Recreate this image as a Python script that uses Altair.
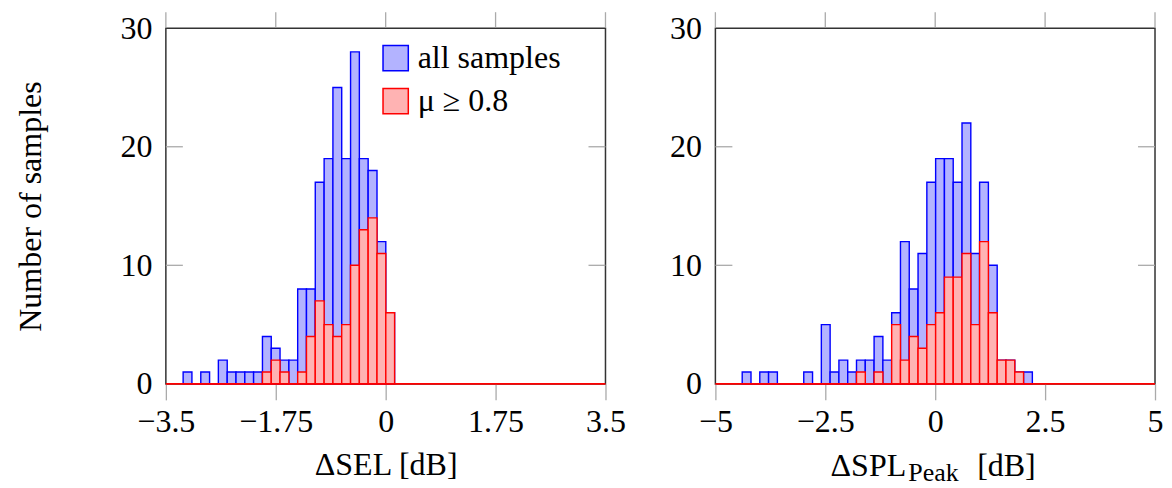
import altair as alt
import pandas as pd

FONT = "Liberation Serif"

# ---------------- data ----------------
series_names = ["all samples", "\u2003\u03bc \u2265 0.8"]
fill_colors = ["#b3b3ff", "#ffb3b3"]
stroke_colors = ["#0000ff", "#ff0000"]

# ΔSEL histogram (bin edges and counts)
sel_edges = [-3.225, -3.085, -2.944, -2.804, -2.664, -2.523, -2.383, -2.243,
             -2.103, -1.962, -1.822, -1.682, -1.541, -1.401, -1.261, -1.121,
             -0.980, -0.840, -0.700, -0.559, -0.419, -0.279, -0.138, 0.002, 0.142]
sel_all = [1, 0, 1, 0, 2, 1, 1, 1, 1, 4, 3, 2, 2, 8, 8, 17, 19, 25, 19, 28, 19, 18, 12, 6]
sel_mu = [0, 0, 0, 0, 0, 0, 0, 0, 0, 1, 2, 1, 0, 1, 4, 7, 5, 4, 5, 10, 13, 14, 11, 6]
sel_ticks = [-3.5, -1.75, 0, 1.75, 3.5]

# ΔSPL_Peak histogram
spl_edges = [-4.39, -4.19, -3.99, -3.79, -3.59, -3.39, -3.19, -2.99, -2.79,
             -2.59, -2.39, -2.19, -1.99, -1.79, -1.59, -1.39, -1.19, -0.99,
             -0.79, -0.59, -0.39, -0.19, 0.01, 0.21, 0.41, 0.61, 0.81, 1.01,
             1.21, 1.41, 1.61, 1.81, 2.01, 2.21]
spl_all = [1, 0, 1, 1, 0, 0, 0, 1, 0, 5, 1, 2, 1, 2, 2, 4, 2, 6, 12, 8, 11,
           17, 19, 19, 17, 22, 11, 17, 10, 2, 2, 1, 1]
spl_mu = [0, 0, 0, 0, 0, 0, 0, 0, 0, 0, 0, 0, 0, 1, 0, 1, 0, 5, 2, 4, 3,
          5, 6, 9, 9, 11, 5, 12, 6, 2, 2, 1, 0]
spl_ticks = [-5, -2.5, 0, 2.5, 5]

y_ticks = [0, 10, 20, 30]
y_max = 30

W, H = 440, 356
FS = 32


def make_axes(xticks, ytitle, xtitle):
    xkw = dict(values=xticks, format=".3~g", tickSize=16, tickColor="#aaaaaa",
               tickWidth=1.3, labelPadding=7, labelFlush=False, labelOverlap=False,
               domain=False, grid=False, titlePadding=12, title=xtitle)
    ykw = dict(values=y_ticks, format=".3~g", ticks=False, tickSize=0, labelPadding=14,
               domain=False, grid=False, titlePadding=72, title=ytitle)
    return alt.Axis(**xkw), alt.Axis(**ykw)


def panel(edges, all_counts, mu_counts, xticks, legend, ytitle, xtitle):
    rows = []
    for name, counts in ((series_names[0], all_counts), (series_names[1], mu_counts)):
        for i, c in enumerate(counts):
            rows.append({"lo": edges[i], "hi": edges[i + 1], "n": c, "series": name})
    df = pd.DataFrame(rows)

    xscale = alt.Scale(domain=[xticks[0], xticks[-1]], nice=False, zero=False)
    yscale = alt.Scale(domain=[0, y_max], nice=False)
    xaxis, yaxis = make_axes(xticks, ytitle, xtitle)

    bars = alt.Chart(df).mark_rect(strokeWidth=1.4).encode(
        x=alt.X("lo:Q", scale=xscale, axis=xaxis),
        x2="hi:Q",
        y=alt.Y("n:Q", scale=yscale, axis=yaxis),
        y2=alt.datum(0),
        fill=alt.Fill("series:N", scale=alt.Scale(domain=series_names, range=fill_colors),
                      legend=legend),
        stroke=alt.Stroke("series:N", scale=alt.Scale(domain=series_names, range=stroke_colors),
                          legend=legend),
    )

    # inner tick marks (only strictly inside the frame)
    ytick_df = pd.DataFrame({"n": [t for t in y_ticks if 0 < t < y_max]})
    xtick_df = pd.DataFrame({"lo": xticks})
    left_ticks = alt.Chart(ytick_df).mark_rule(color="#aaaaaa", strokeWidth=1.3).encode(
        y=alt.Y("n:Q", scale=yscale, axis=yaxis), x=alt.value(0), x2=alt.value(17))
    right_ticks = alt.Chart(ytick_df).mark_rule(color="#aaaaaa", strokeWidth=1.3).encode(
        y=alt.Y("n:Q", scale=yscale, axis=yaxis), x=alt.value(W - 17), x2=alt.value(W))
    top_ticks = alt.Chart(xtick_df).mark_rule(color="#aaaaaa", strokeWidth=1.3).encode(
        x=alt.X("lo:Q", scale=xscale, axis=xaxis), y=alt.value(-1), y2=alt.value(-16))
    base = alt.Chart(pd.DataFrame({"n": [0]})).mark_rule(color="#ff0000", strokeWidth=1.6).encode(
        y=alt.Y("n:Q", scale=yscale, axis=yaxis), x=alt.value(0), x2=alt.value(W))

    return [left_ticks, right_ticks, top_ticks, bars, base]


legend = alt.Legend(title=None, orient="none", legendX=214, legendY=14, symbolType="square",
                    symbolSize=640, symbolStrokeWidth=1.5, labelFontSize=FS, labelFont=FONT,
                    labelColor="black", rowPadding=11, labelOffset=6, padding=0)

left_layers = panel(sel_edges, sel_all, sel_mu, sel_ticks, legend,
                    "Number of samples", "\u0394SEL [dB]")
right_layers = panel(spl_edges, spl_all, spl_mu, spl_ticks, None, None, None)

# x-axis title of the right panel with a subscript
TY = 448
t_main = alt.Chart(pd.DataFrame({"s": ["\u0394SPL"]})).mark_text(
    align="right", baseline="alphabetic", fontSize=FS, font=FONT, color="black").encode(
    text="s:N", x=alt.value(191), y=alt.value(TY))
t_sub = alt.Chart(pd.DataFrame({"s": ["Peak"]})).mark_text(
    align="left", baseline="alphabetic", fontSize=26, font=FONT, color="black").encode(
    text="s:N", x=alt.value(193), y=alt.value(TY + 5))
t_unit = alt.Chart(pd.DataFrame({"s": ["[dB]"]})).mark_text(
    align="left", baseline="alphabetic", fontSize=FS, font=FONT, color="black").encode(
    text="s:N", x=alt.value(262), y=alt.value(TY))

left = alt.layer(*left_layers).properties(width=W, height=H)
right = alt.layer(*right_layers, t_main, t_sub, t_unit).properties(width=W, height=H)

chart = alt.hconcat(left, right, spacing=110, bounds="flush").resolve_scale(
    fill="independent", stroke="independent"
).properties(
    padding={"left": 6, "top": 2, "right": 0, "bottom": 0}
).configure(font=FONT).configure_view(
    stroke="#333333", strokeWidth=1.5
).configure_axis(
    labelFont=FONT, titleFont=FONT, labelFontSize=FS, titleFontSize=FS,
    labelColor="black", titleColor="black", titleFontWeight="normal"
)

chart.save("out.html", embed_options={"renderer": "svg", "actions": False})
